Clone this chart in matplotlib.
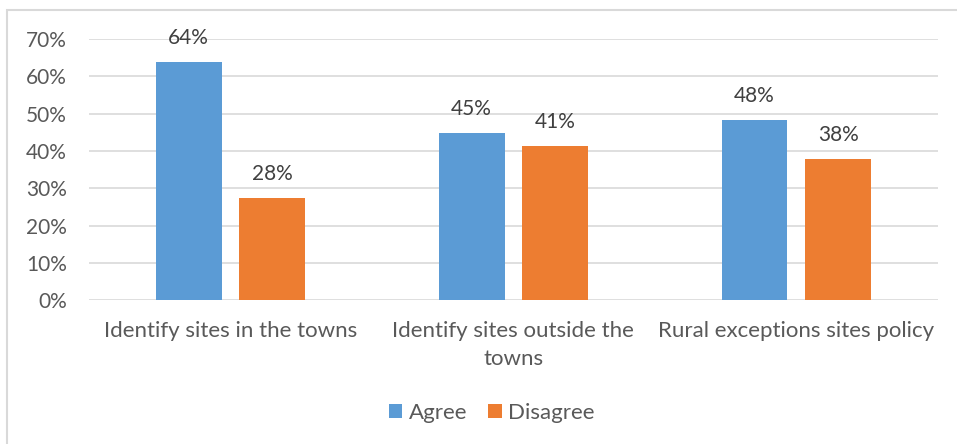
import numpy as np
import matplotlib.pyplot as plt
from matplotlib.patches import Rectangle

categories = ["Identify sites in the towns", "Identify sites outside the\ntowns", "Rural exceptions sites policy"]
agree      = [0.638, 0.448, 0.483]
disagree   = [0.275, 0.414, 0.379]
yticks     = [0.0, 0.1, 0.2, 0.3, 0.4, 0.5, 0.6, 0.7]

blue   = "#5B9BD5"
orange = "#ED7D31"
grey   = "#595959"

plt.rcParams["font.family"] = ["Lato", "DejaVu Sans"]

fig = plt.figure(figsize=(9.57, 4.44), dpi=100)
ax = fig.add_axes([0.093, 0.324, 0.887, 0.588])

# light outer frame of the chart area
fig.patches.append(Rectangle((7, -20), 1000, 454, transform=None, fill=False,
                             edgecolor="#d9d9d9", linewidth=1.5))

x = np.arange(len(categories))
w = 0.233
off = 0.148
b1 = ax.bar(x - off, agree, w, color=blue, label="Agree", zorder=3)
b2 = ax.bar(x + off, disagree, w, color=orange, label="Disagree", zorder=3)

for bars, vals in ((b1, agree), (b2, disagree)):
    for rect, v in zip(bars, vals):
        ax.annotate(f"{v * 100:.0f}%", (rect.get_x() + rect.get_width() / 2, v),
                    xytext=(0, 10), textcoords="offset points",
                    ha="center", va="bottom", fontsize=15, color="#404040")

ax.set_xlim(-0.5, 2.5)
ax.set_ylim(0, 0.7)
ax.set_yticks(yticks)
ax.set_yticklabels([f"{t * 100:.0f}%" for t in yticks])
ax.set_xticks(x)
ax.set_xticklabels(categories, linespacing=1.5)
ax.tick_params(axis="y", length=0, pad=16, labelsize=15, labelcolor=grey)
ax.tick_params(axis="x", length=0, pad=15, labelsize=16, labelcolor=grey)
ax.grid(axis="y", color="#d9d9d9", linewidth=1.2, zorder=0)
for s in ax.spines.values():
    s.set_visible(False)

fig.legend(loc="center", bbox_to_anchor=(0.514, 0.070), ncol=2, frameon=False,
           fontsize=16, labelcolor=grey, handlelength=0.6, handleheight=0.6,
           handletextpad=0.3, columnspacing=0.95)

fig.savefig("out.png", dpi=100)
